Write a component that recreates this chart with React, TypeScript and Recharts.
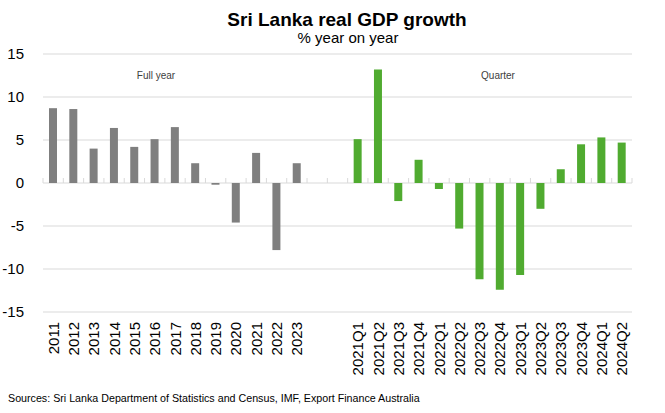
import React from 'react';
import { BarChart, Bar, Cell, XAxis, YAxis, CartesianGrid } from 'recharts';

const years = ['2011', '2012', '2013', '2014', '2015', '2016', '2017', '2018', '2019', '2020', '2021', '2022', '2023'];
const yearGrowth = [8.7, 8.6, 4.0, 6.4, 4.2, 5.1, 6.5, 2.3, -0.2, -4.6, 3.5, -7.8, 2.3];

const quarters = ['2021Q1', '2021Q2', '2021Q3', '2021Q4', '2022Q1', '2022Q2', '2022Q3', '2022Q4', '2023Q1', '2023Q2', '2023Q3', '2023Q4', '2024Q1', '2024Q2'];
const quarterGrowth = [5.1, 13.2, -2.1, 2.7, -0.7, -5.3, -11.2, -12.4, -10.7, -3.0, 1.6, 4.5, 5.3, 4.7];

const yTicks = [-15, -10, -5, 0, 5, 10, 15];

const GREY = '#7f7f7f';
const GREEN = '#50ab30';
const FONT = '"Liberation Sans", Arial, sans-serif';

const W = 665;
const H = 413;
const PLOT_TOP = 54;
const PLOT_BOTTOM = 312;
const ZERO_Y = (PLOT_TOP + PLOT_BOTTOM) / 2;

// yearly block, two empty slots, then the quarterly block
const rows = [
  ...years.map((label, i) => ({ label, value: yearGrowth[i], kind: 'year' })),
  { label: ' ', value: null, kind: 'gap' },
  { label: '  ', value: null, kind: 'gap' },
  ...quarters.map((label, i) => ({ label, value: quarterGrowth[i], kind: 'quarter' })),
];

const XTick = (props: any) => {
  const { x, payload, index } = props;
  const off = payload.offset || 0;
  const tx = x + 5.5;
  const ty = PLOT_BOTTOM + 10;
  return (
    <g>
      <line x1={x - off} x2={x - off} y1={ZERO_Y - 5} y2={ZERO_Y} stroke="#d9d9d9" />
      {index === rows.length - 1 && (
        <line x1={x + off} x2={x + off} y1={ZERO_Y - 5} y2={ZERO_Y} stroke="#d9d9d9" />
      )}
      <text
        x={tx}
        y={ty}
        transform={`rotate(-90, ${tx}, ${ty})`}
        textAnchor="end"
        fontSize={15}
        fontFamily={FONT}
        fill="#000"
      >
        {payload.value.trim()}
      </text>
    </g>
  );
};

export default function App() {
  return (
    <div style={{ position: 'absolute', left: 0, top: 0, width: W, height: H, background: '#fff', fontFamily: FONT }}>
      <div style={{ position: 'absolute', left: 0, width: 694, top: 10, textAlign: 'center', fontSize: 19, lineHeight: '19px', fontWeight: 'bold', color: '#000' }}>
        Sri Lanka real GDP growth
      </div>
      <div style={{ position: 'absolute', left: 0, width: 696, top: 30, textAlign: 'center', fontSize: 15, lineHeight: '15px', color: '#000' }}>
        % year on year
      </div>
      <BarChart
        width={W}
        height={H}
        data={rows}
        margin={{ top: PLOT_TOP, right: 33, left: 0, bottom: 0 }}
        barCategoryGap={0}
      >
        <CartesianGrid vertical={false} stroke="#d9d9d9" />
        <XAxis
          dataKey="label"
          interval={0}
          height={H - PLOT_BOTTOM}
          axisLine={false}
          tickLine={false}
          tick={<XTick />}
        />
        <YAxis
          width={43}
          domain={[-15, 15]}
          ticks={yTicks}
          axisLine={false}
          tickLine={false}
          tickMargin={13}
          tick={{ fontSize: 15, fill: '#000', fontFamily: FONT }}
        />
        <Bar dataKey="value" barSize={8} isAnimationActive={false}>
          {rows.map((r, i) => (
            <Cell key={i} fill={r.kind === 'quarter' ? GREEN : GREY} />
          ))}
        </Bar>
      </BarChart>
      <div style={{ position: 'absolute', left: 106, width: 100, top: 71, textAlign: 'center', fontSize: 10, lineHeight: '10px', color: '#404040' }}>
        Full year
      </div>
      <div style={{ position: 'absolute', left: 448, width: 100, top: 71, textAlign: 'center', fontSize: 10, lineHeight: '10px', color: '#404040' }}>
        Quarter
      </div>
      <div style={{ position: 'absolute', left: 8, top: 393, fontSize: 10.7, lineHeight: '11px', color: '#000', whiteSpace: 'nowrap' }}>
        Sources: Sri Lanka Department of Statistics and Census, IMF, Export Finance Australia
      </div>
    </div>
  );
}
